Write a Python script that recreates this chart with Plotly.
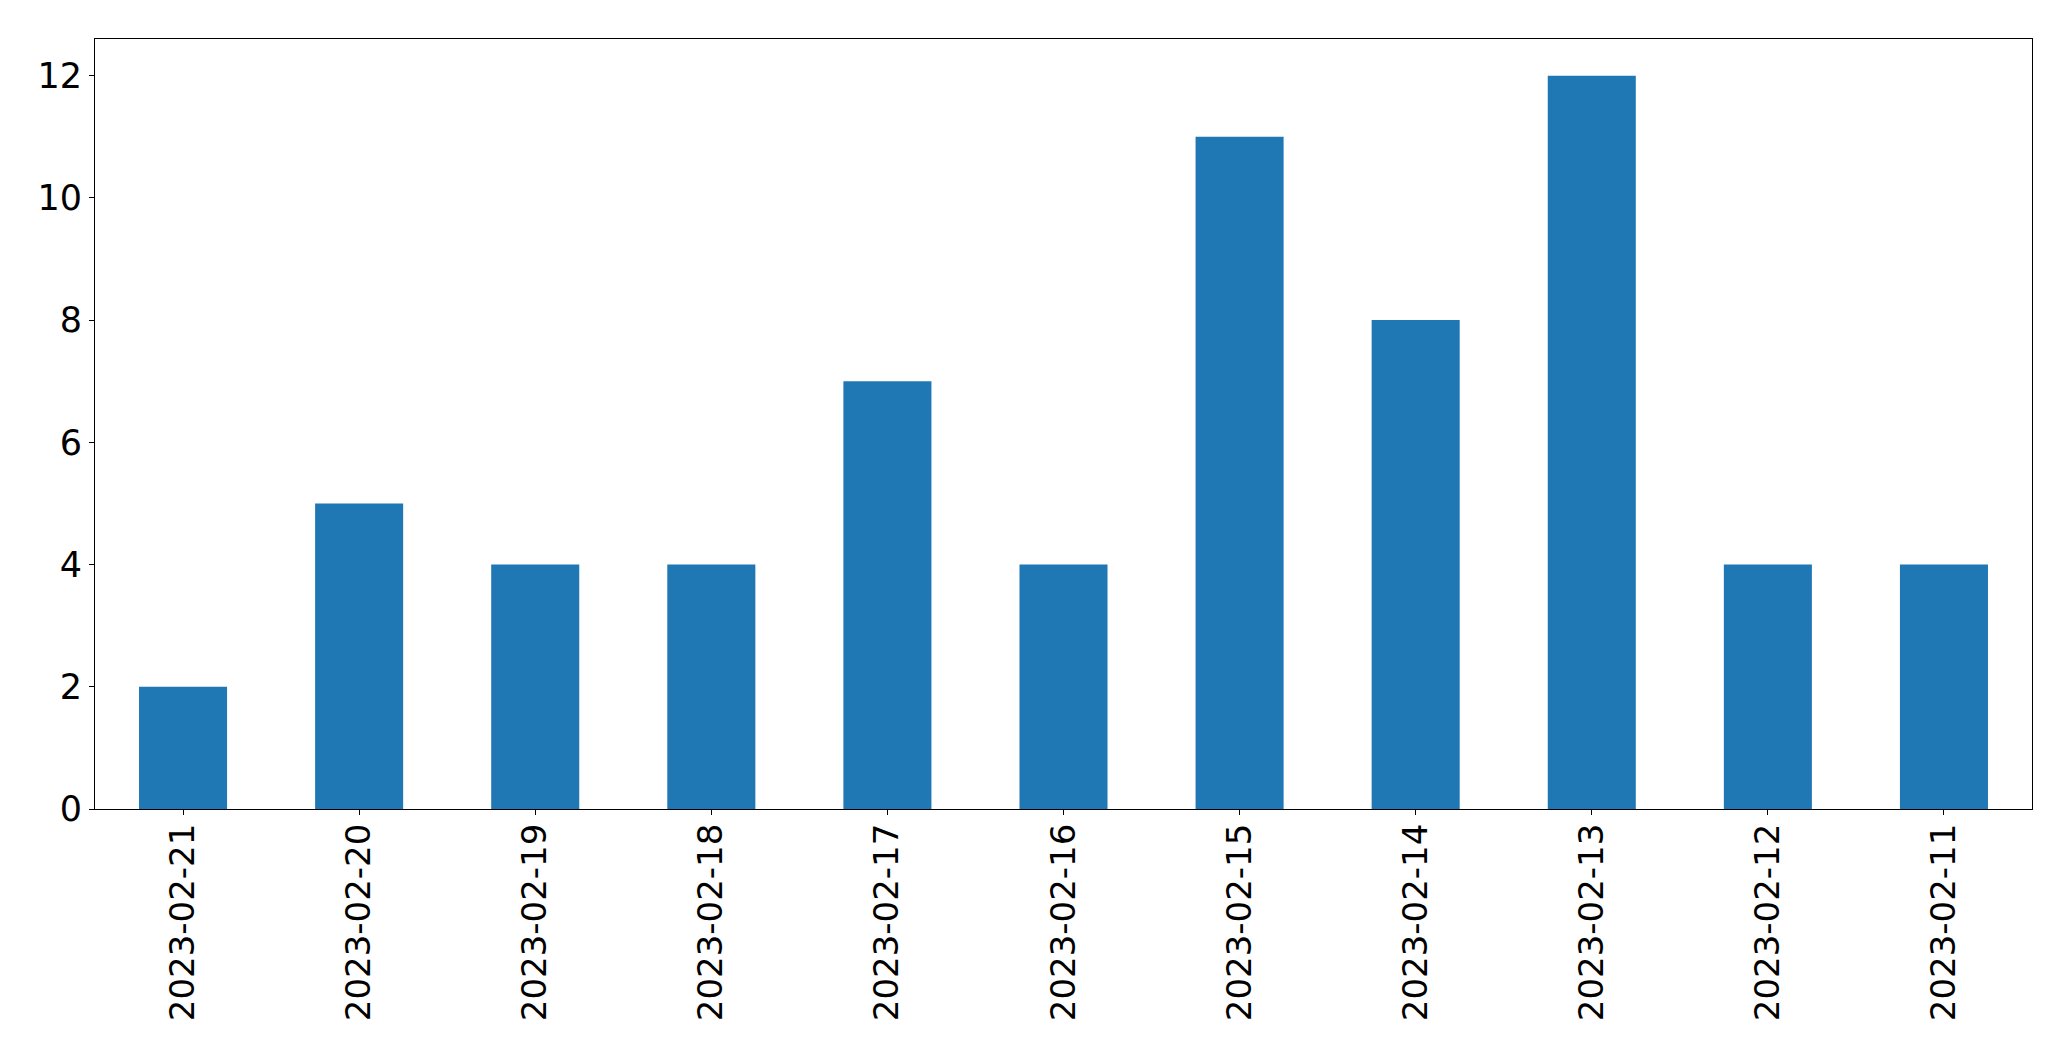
import plotly.graph_objects as go

dates = ["2023-02-21", "2023-02-20", "2023-02-19", "2023-02-18", "2023-02-17",
         "2023-02-16", "2023-02-15", "2023-02-14", "2023-02-13", "2023-02-12", "2023-02-11"]
counts = [2, 5, 4, 4, 7, 4, 11, 8, 12, 4, 4]
y_ticks = [0, 2, 4, 6, 8, 10, 12]

fig = go.Figure(go.Bar(x=dates, y=counts, marker=dict(color="#1f77b4", line=dict(width=0)), width=0.5))

font = dict(family="DejaVu Sans", size=35, color="black")
xfont = dict(family="DejaVu Sans", size=34, color="black")
fig.update_layout(
    width=2063, height=1053,
    margin=dict(l=87, r=39, t=31, b=252),
    paper_bgcolor="white", plot_bgcolor="white",
    showlegend=False,
    font=font,
)
fig.update_xaxes(
    type="category", range=[-0.5, len(dates) - 0.5],
    tickangle=-90, tickfont=xfont, ticklabelstandoff=-5,
    showline=True, linecolor="black", linewidth=1.1, mirror=True,
    ticks="outside", ticklen=5, tickwidth=1.1, tickcolor="black",
    showgrid=False, zeroline=False,
)
fig.update_yaxes(
    range=[0, 12.6], tickvals=y_ticks, ticktext=[str(v) for v in y_ticks],
    tickfont=font,
    showline=True, linecolor="black", linewidth=1.1, mirror=True,
    ticks="outside", ticklen=5, tickwidth=1.1, tickcolor="black",
    showgrid=False, zeroline=False,
)
fig.write_html("out.html")
